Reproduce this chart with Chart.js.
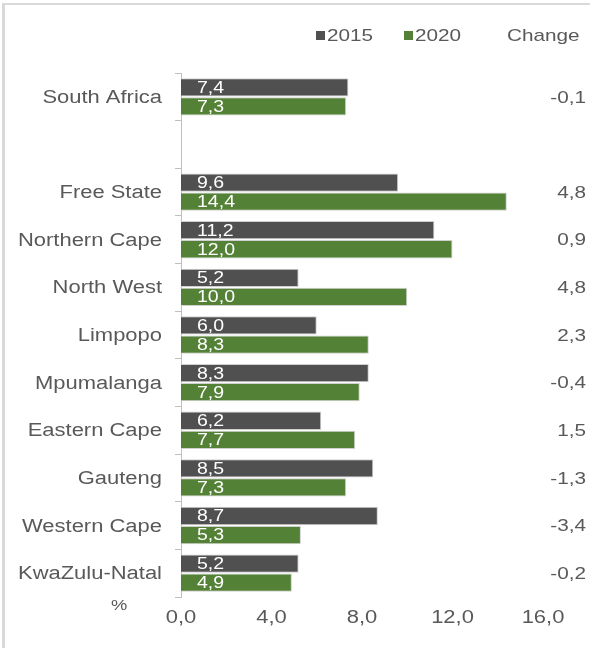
<!DOCTYPE html>
<html>
<head>
<meta charset="utf-8">
<script src="https://cdn.jsdelivr.net/npm/chart.js@4"></script>
<style>
  html, body { margin: 0; padding: 0; background: #fff; }
  #wrap { width: 590px; height: 648px; position: relative; }
</style>
</head>
<body>
<div id="wrap"><canvas id="chart" width="590" height="648"></canvas></div>
<script>
// Provinces (blank row separates the national figure)
const regions = ['South Africa', '', 'Free State', 'Northern Cape', 'North West', 'Limpopo',
  'Mpumalanga', 'Eastern Cape', 'Gauteng', 'Western Cape', 'KwaZulu-Natal'];
const values2015 = [7.4, null, 9.6, 11.2, 5.2, 6.0, 8.3, 6.2, 8.5, 8.7, 5.2];
const values2020 = [7.3, null, 14.4, 12.0, 10.0, 8.3, 7.9, 7.7, 7.3, 5.3, 4.9];
const changes = ['-0,1', '', '4,8', '0,9', '4,8', '2,3', '-0,4', '1,5', '-1,3', '-3,4', '-0,2'];
const seriesNames = ['2015', '2020'];
const xTicks = [0, 4, 8, 12, 16];

const GREY = '#505050';
const GREEN = '#538135';
const TEXT = '#595959';
const FONT = '"Liberation Sans", Arial, sans-serif';
const WIDEN = 1.22; // text is drawn a bit wider than normal

const fmt = v => v.toFixed(1).replace('.', ',');

function wideText(ctx, text, x, y, size, align, color) {
  ctx.save();
  ctx.font = size + 'px ' + FONT;
  ctx.fillStyle = color;
  ctx.textAlign = align;
  ctx.textBaseline = 'middle';
  ctx.translate(x, y);
  ctx.scale(WIDEN, 1);
  ctx.fillText(text, 0, 0);
  ctx.restore();
}

// axis labels, labels inside bars, change column, legend, % sign and frame
const extras = {
  id: 'extras',
  afterDatasetsDraw(chart) {
    const ctx = chart.ctx;
    const x = chart.scales.x;
    const y = chart.scales.y;

    regions.forEach((r, j) => {
      if (r) wideText(ctx, r, 162, y.getPixelForValue(j) + 1, 18, 'right', TEXT);
    });
    x.ticks.forEach(t => {
      wideText(ctx, fmt(t.value), x.getPixelForValue(t.value), 618, 18, 'center', TEXT);
    });

    chart.data.datasets.forEach((ds, i) => {
      chart.getDatasetMeta(i).data.forEach((bar, j) => {
        if (ds.data[j] == null) return;
        wideText(ctx, fmt(ds.data[j]), x.getPixelForValue(0) + 16, bar.y + 1, 16, 'left', '#ffffff');
      });
    });

    changes.forEach((c, j) => {
      if (c) wideText(ctx, c, 586, y.getPixelForValue(j) + 1, 17, 'right', TEXT);
    });

    // legend row
    const legendX = [316, 404];
    seriesNames.forEach((name, i) => {
      ctx.fillStyle = chart.data.datasets[i].backgroundColor;
      ctx.fillRect(legendX[i], 31, 9, 9);
      wideText(ctx, name, legendX[i] + 11, 36, 17, 'left', TEXT);
    });
    wideText(ctx, 'Change', 507, 36, 17, 'left', TEXT);
    wideText(ctx, '%', 111, 606, 15, 'left', TEXT);

    // frame
    ctx.save();
    ctx.fillStyle = '#d9d9d9';
    ctx.fillRect(2, 3, 3, 645);
    ctx.fillRect(2, 3, 588, 2);
    ctx.restore();
  }
};

new Chart(document.getElementById('chart'), {
  type: 'bar',
  data: {
    labels: regions,
    datasets: [
      { label: seriesNames[0], data: values2015, backgroundColor: GREY, borderColor: '#d0d0d0', borderWidth: 1 },
      { label: seriesNames[1], data: values2020, backgroundColor: GREEN, borderColor: '#d0d0d0', borderWidth: 1 }
    ]
  },
  options: {
    indexAxis: 'y',
    responsive: false,
    animation: false,
    layout: { padding: { top: 73, right: 47, bottom: 0, left: 0 } },
    plugins: { legend: { display: false }, tooltip: { enabled: false } },
    datasets: { bar: { categoryPercentage: 0.8, barPercentage: 0.96 } },
    scales: {
      y: {
        afterFit: s => { s.width = 181; },
        grid: { display: true, drawOnChartArea: false, tickLength: 6, color: '#bfbfbf' },
        border: { display: true, color: '#bfbfbf', width: 1 },
        ticks: { display: false, autoSkip: false }
      },
      x: {
        min: 0,
        max: 16,
        afterFit: s => { s.height = 51; },
        afterBuildTicks: s => { s.ticks = xTicks.map(v => ({ value: v })); },
        grid: { display: false },
        border: { display: false },
        ticks: { display: false }
      }
    }
  },
  plugins: [extras]
});
</script>
</body>
</html>
